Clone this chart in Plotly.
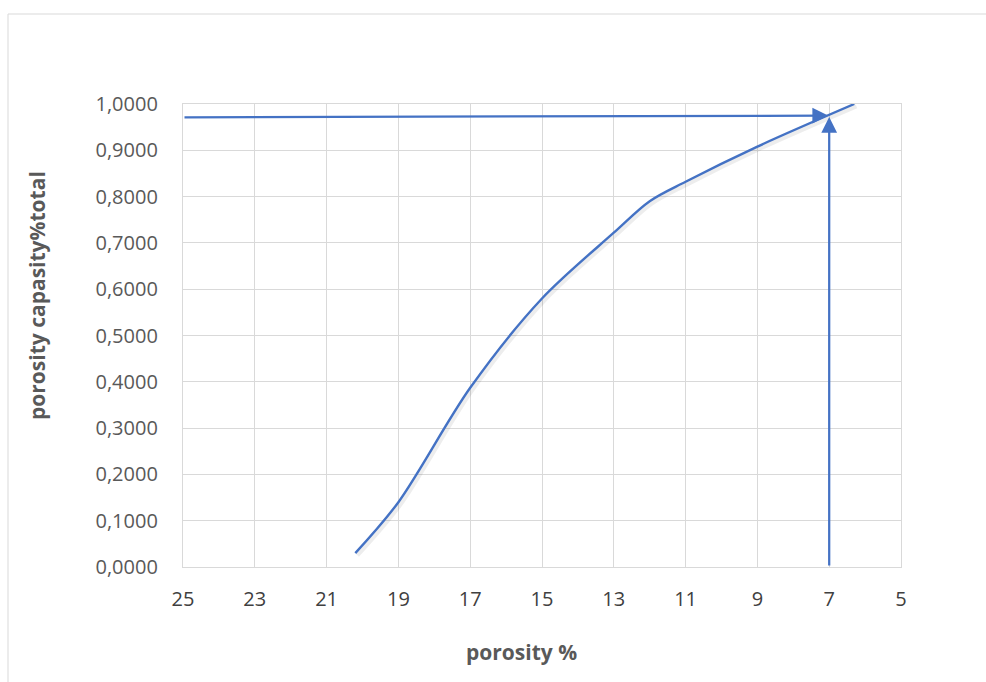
import plotly.graph_objects as go

# ---- data ----
porosity = [20.2, 19.0, 17.0, 15.0, 13.0, 12.0, 11.0, 9.0, 6.3]
capacity = [0.03, 0.14, 0.387, 0.58, 0.722, 0.79, 0.832, 0.908, 1.0]

h_arrow_x = [25.0, 7.03]       # tail, tip
h_arrow_y = [0.971, 0.975]
v_arrow_x = [7.0, 7.0]
v_arrow_y = [0.0, 0.972]

x_ticks = [25, 23, 21, 19, 17, 15, 13, 11, 9, 7, 5]
y_ticks = [0.0, 0.1, 0.2, 0.3, 0.4, 0.5, 0.6, 0.7, 0.8, 0.9, 1.0]

x_title = "porosity %"
y_title = "porosity capasity%total"

BLUE = "#4472C4"
GRID = "#d9d9d9"
TXT = "#595959"
FONT = "Open Sans"

W, H = 986, 682
L, R, T, B = 183, 85, 104, 115
PW, PH = W - L - R, H - T - B


def px_to_paper_x(px):
    return (px - L) / PW


def px_to_paper_y(py):
    return (H - B - py) / PH


fig = go.Figure()

# soft shadow of the curve
fig.add_trace(go.Scatter(
    x=[v - 0.06 for v in porosity], y=[v - 0.005 for v in capacity],
    mode="lines", line=dict(color="rgba(0,0,0,0.07)", width=4, shape="spline", smoothing=0.9),
    hoverinfo="skip", showlegend=False))

fig.add_trace(go.Scatter(
    x=porosity, y=capacity, mode="lines",
    line=dict(color=BLUE, width=2.4, shape="spline", smoothing=0.9),
    showlegend=False))

# arrows
for xs, ys in [(h_arrow_x, h_arrow_y), (v_arrow_x, v_arrow_y)]:
    fig.add_annotation(
        x=xs[1], y=ys[1], ax=xs[0], ay=ys[0],
        xref="x", yref="y", axref="x", ayref="y",
        text="", showarrow=True, arrowhead=2, arrowsize=1.4,
        arrowwidth=2.25, arrowcolor=BLUE, standoff=0)

# axis titles
fig.add_annotation(
    x=px_to_paper_x(37), y=px_to_paper_y(296), xref="paper", yref="paper",
    xanchor="center", yanchor="middle",
    text=f"<b>{y_title}</b>", textangle=-90, showarrow=False,
    font=dict(family=FONT, size=21, color=TXT))
fig.add_annotation(
    x=px_to_paper_x(521), y=px_to_paper_y(652), xref="paper", yref="paper",
    xanchor="center", yanchor="middle",
    text=f"<b>{x_title}</b>", showarrow=False,
    font=dict(family=FONT, size=21, color=TXT))

# outer chart frame
fig.add_shape(type="line", xref="paper", yref="paper",
              x0=px_to_paper_x(8), y0=px_to_paper_y(14), x1=px_to_paper_x(W + 10), y1=px_to_paper_y(14),
              line=dict(color=GRID, width=1))
fig.add_shape(type="line", xref="paper", yref="paper",
              x0=px_to_paper_x(8), y0=px_to_paper_y(14), x1=px_to_paper_x(8), y1=px_to_paper_y(H + 10),
              line=dict(color=GRID, width=1))

fig.update_layout(
    width=W, height=H,
    margin=dict(l=L, r=R, t=T, b=B),
    paper_bgcolor="white", plot_bgcolor="white",
    separators=", ",
    font=dict(family=FONT, size=20, color=TXT),
    xaxis=dict(range=[25, 5], tickvals=x_ticks, ticktext=[str(v) for v in x_ticks],
               showgrid=True, gridcolor=GRID, gridwidth=1.3, zeroline=False,
               showline=True, linecolor=GRID, linewidth=1.3, mirror=True,
               ticks="outside", ticklen=14, tickcolor="rgba(0,0,0,0)",
               tickfont=dict(family=FONT, size=20, color="#404040")),
    yaxis=dict(range=[0, 1], tickvals=y_ticks, tickformat=".4f",
               showgrid=True, gridcolor=GRID, gridwidth=1.3, zeroline=False,
               showline=True, linecolor=GRID, linewidth=1.3, mirror=True,
               ticks="outside", ticklen=20, tickcolor="rgba(0,0,0,0)",
               tickfont=dict(family=FONT, size=20, color=TXT)),
)

fig.write_html("out.html")
